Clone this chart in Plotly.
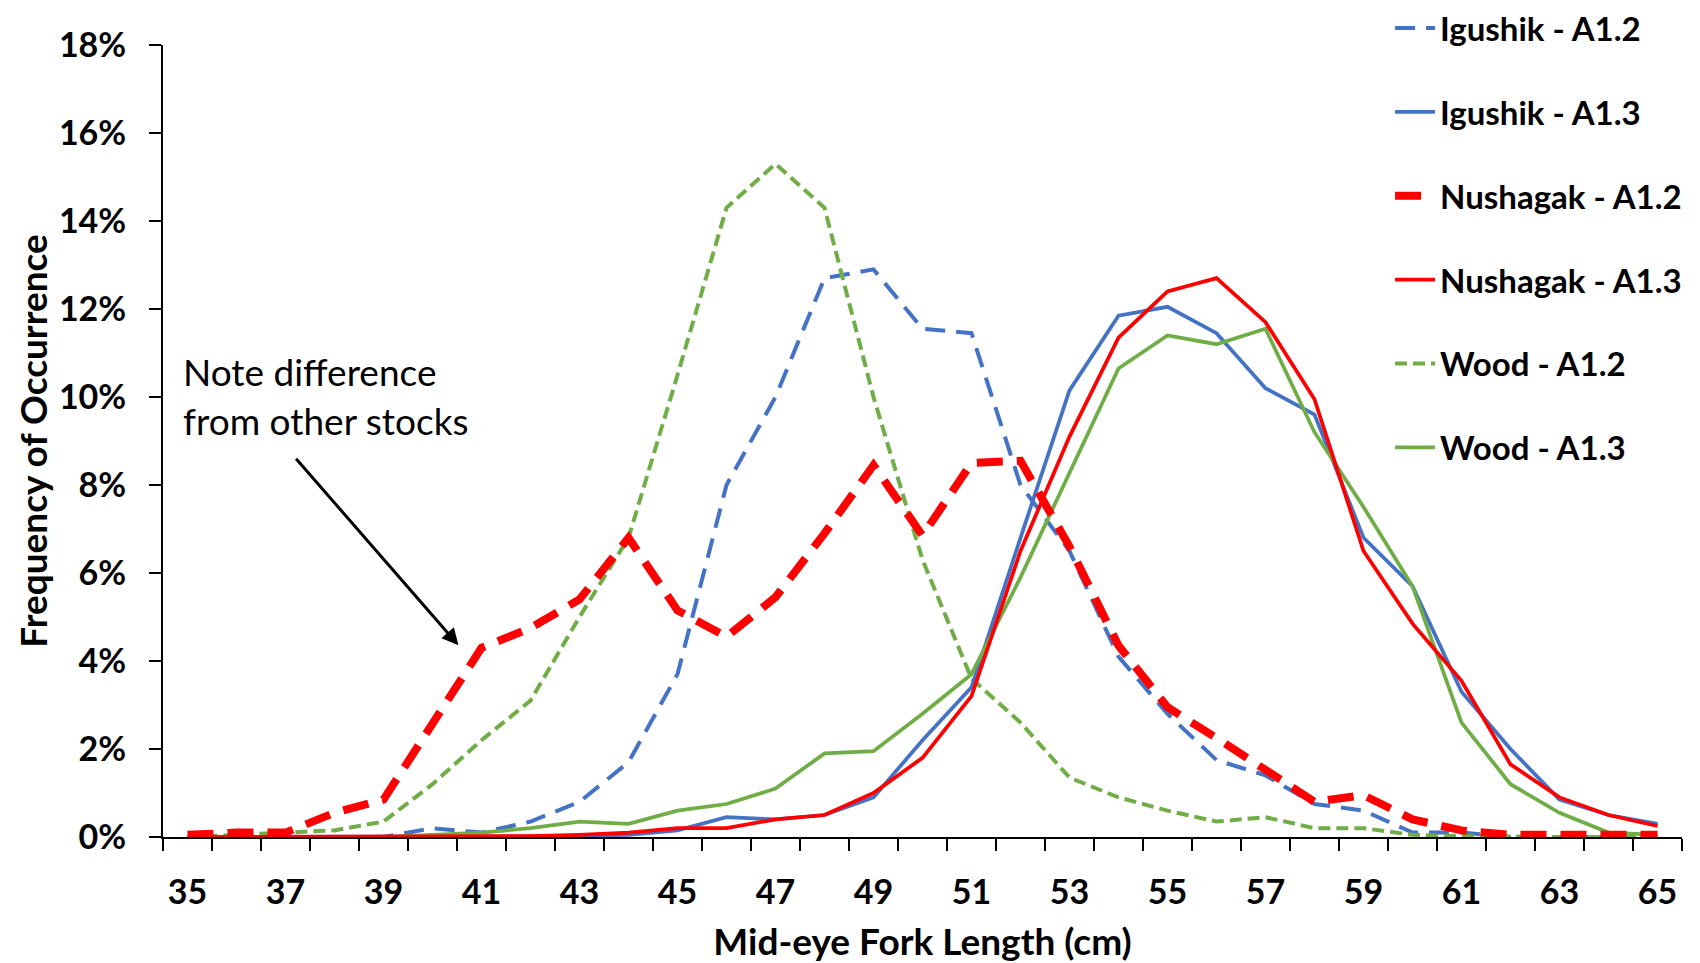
import plotly.graph_objects as go

lengths = list(range(35, 66))

igushik_a12 = [0, 0, 0, 0, 0, 0.2, 0.1, 0.35, 0.8, 1.7, 3.7, 8.0, 10.0, 12.7, 12.9, 11.55, 11.45,
               8.0, 6.5, 4.1, 2.8, 1.75, 1.4, 0.75, 0.6, 0.1, 0.1, 0, 0, 0, 0]
igushik_a13 = [0, 0, 0, 0, 0, 0, 0, 0, 0.02, 0.05, 0.15, 0.45, 0.4, 0.5, 0.9, 2.2, 3.4,
               6.8, 10.15, 11.85, 12.05, 11.45, 10.2, 9.6, 6.8, 5.7, 3.3, 2.0, 0.85, 0.5, 0.3]
nushagak_a12 = [0.05, 0.1, 0.1, 0.55, 0.85, 2.6, 4.3, 4.75, 5.4, 6.8, 5.15, 4.55, 5.45, 6.9, 8.45, 6.85, 8.5,
                8.55, 6.6, 4.35, 2.95, 2.25, 1.5, 0.8, 0.95, 0.4, 0.15, 0.05, 0.05, 0.05, 0.05]
nushagak_a13 = [0, 0, 0, 0, 0, 0, 0.02, 0.02, 0.05, 0.1, 0.2, 0.2, 0.4, 0.5, 1.0, 1.8, 3.2,
                6.5, 9.1, 11.35, 12.4, 12.7, 11.7, 9.95, 6.5, 4.85, 3.55, 1.65, 0.9, 0.5, 0.25]
wood_a12 = [0, 0.05, 0.1, 0.15, 0.35, 1.2, 2.2, 3.1, 5.0, 6.8, 10.5, 14.3, 15.3, 14.3, 10.0, 6.3, 3.6,
            2.6, 1.35, 0.9, 0.6, 0.35, 0.45, 0.2, 0.2, 0.05, 0.02, 0, 0, 0, 0]
wood_a13 = [0, 0, 0, 0, 0, 0.05, 0.1, 0.2, 0.35, 0.3, 0.6, 0.75, 1.1, 1.9, 1.95, 2.8, 3.7,
            5.9, 8.3, 10.65, 11.4, 11.2, 11.55, 9.2, 7.5, 5.7, 2.6, 1.2, 0.55, 0.1, 0.05]

x_tick_values = list(range(35, 66, 2))
x_tick_labels = [str(v) for v in x_tick_values]

BLUE = "#4472C4"
RED = "#FF0000"
GREEN = "#70AD47"

series = [
    # name, values, color, width, dash, legend rank
    ("Igushik - A1.2", igushik_a12, BLUE, 4, "20px,11px", 1),
    ("Wood - A1.2", wood_a12, GREEN, 4, "12px,6px", 5),
    ("Igushik - A1.3", igushik_a13, BLUE, 3.75, "solid", 2),
    ("Wood - A1.3", wood_a13, GREEN, 3.75, "solid", 6),
    ("Nushagak - A1.3", nushagak_a13, RED, 3.75, "solid", 4),
    ("Nushagak - A1.2", nushagak_a12, RED, 8, "26px,14px", 3),
]

fig = go.Figure()
for name, vals, color, width, dash, rank in series:
    fig.add_trace(go.Scatter(
        x=lengths, y=[v / 100 for v in vals], mode="lines", name=name,
        legendgroup=name, legendrank=rank,
        line=dict(color=color, width=width, dash=dash),
    ))

tick_font = dict(family="Lato", size=34, color="black", weight="bold")
title_font = dict(family="Lato", size=37, color="black", weight="bold")

minor_ticks = [v - 0.5 for v in lengths] + [lengths[-1] + 0.5]

fig.update_xaxes(
    range=[34.5, 65.5], tickmode="array", tickvals=x_tick_values, ticktext=x_tick_labels,
    ticks="", ticklabelstandoff=24, tickfont=tick_font,
    minor=dict(tickmode="array", tickvals=minor_ticks, ticks="outside", ticklen=12,
               tickwidth=2, tickcolor="black"),
    showline=True, linecolor="black", linewidth=2, showgrid=False, zeroline=False,
    title=dict(text="Mid-eye Fork Length (cm)", font=title_font, standoff=34),
)
fig.update_yaxes(
    range=[0, 0.18], dtick=0.02, tick0=0, tickformat=".0%", ticks="outside", ticklen=12,
    tickwidth=2, tickcolor="black", ticklabelstandoff=16, tickfont=tick_font,
    showline=True, linecolor="black", linewidth=2, showgrid=False, zeroline=False,
    title=dict(text="Frequency of Occurrence", font=title_font, standoff=0),
)

note_font = dict(family="Lato", size=37, color="black")
fig.add_annotation(x=34.86, y=0.1058, xref="x", yref="y", text="Note difference",
                   showarrow=False, xanchor="left", yanchor="middle", font=note_font)
fig.add_annotation(x=34.86, y=0.0946, xref="x", yref="y", text="from other stocks",
                   showarrow=False, xanchor="left", yanchor="middle", font=note_font)
fig.add_annotation(x=40.53, y=0.0436, ax=37.19, ay=0.0863, xref="x", yref="y",
                   axref="x", ayref="y", text="", showarrow=True, arrowhead=2,
                   arrowsize=1.1, arrowwidth=3, arrowcolor="black")

fig.update_layout(
    width=1700, height=963,
    margin=dict(l=163, r=18, t=45, b=126, autoexpand=False),
    plot_bgcolor="white", paper_bgcolor="white",
    showlegend=True,
    legend=dict(x=0.8078, y=1.0568, xanchor="left", yanchor="top",
                bgcolor="rgba(0,0,0,0)", font=dict(family="Lato", size=33, color="black", weight="bold"),
                tracegroupgap=38, itemwidth=40),
)

fig.write_html(
    "out.html",
    config={"displayModeBar": False},
    post_script="document.body.style.margin='0';document.body.style.overflow='hidden';",
)
